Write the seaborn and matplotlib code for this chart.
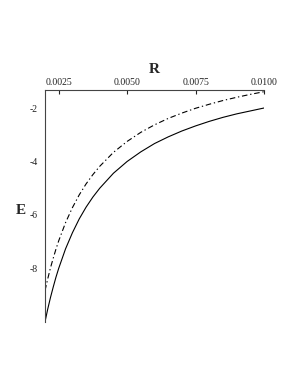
import matplotlib
matplotlib.use("Agg")
import matplotlib.pyplot as plt
import seaborn as sns
import pandas as pd

# values
R = [0.002, 0.0021, 0.0022, 0.0023, 0.0024, 0.0025, 0.00275, 0.003, 0.00325,
     0.0035, 0.00375, 0.004, 0.0045, 0.005, 0.0055, 0.006, 0.0065, 0.007,
     0.0075, 0.008, 0.0085, 0.009, 0.0095, 0.01]
E_solid = [-10.0, -9.52, -9.09, -8.70, -8.33, -8.0, -7.27, -6.67, -6.15,
           -5.71, -5.33, -5.0, -4.44, -4.0, -3.64, -3.33, -3.08, -2.86,
           -2.67, -2.5, -2.35, -2.22, -2.11, -2.0]
E_dashdot = [-8.83, -8.39, -7.98, -7.62, -7.28, -6.97, -6.29, -5.73, -5.25,
             -4.84, -4.49, -4.18, -3.66, -3.25, -2.91, -2.63, -2.39, -2.19,
             -2.01, -1.86, -1.72, -1.60, -1.49, -1.39]
x_ticks = [0.0025, 0.0050, 0.0075, 0.0100]
x_labels = ["0.0025", "0.0050", "0.0075", "0.0100"]
y_ticks = [-2, -4, -6, -8]
y_labels = ["-2", "-4", "-6", "-8"]

df = pd.DataFrame({
    "R": R + R,
    "E": E_solid + E_dashdot,
    "curve": ["solid"] * len(R) + ["dashdot"] * len(R),
})

sns.set_style("white")
plt.rcParams["font.family"] = ["Liberation Serif", "DejaVu Serif"]
plt.rcParams["axes.unicode_minus"] = False

fig = plt.figure(figsize=(2.98, 3.85), dpi=100)
ax = fig.add_axes([0.151, 0.164, 0.735, 0.602])

sns.lineplot(data=df[df.curve == "solid"], x="R", y="E", sort=False,
             color="black", lw=0.8, ax=ax)
sns.lineplot(data=df[df.curve == "dashdot"], x="R", y="E", sort=False,
             color="black", lw=0.8, ax=ax, dashes=False,
             linestyle=(0, (5, 2.5, 1.2, 2.5)))

ax.set_xlim(0.002, 0.01)
ax.set_ylim(-10, -1.33)

for s in ["right", "bottom"]:
    ax.spines[s].set_visible(False)
for s in ["left", "top"]:
    ax.spines[s].set_color("#444444")
    ax.spines[s].set_linewidth(0.8)

ax.xaxis.tick_top()
ax.xaxis.set_label_position("top")
ax.set_xticks(x_ticks)
ax.set_xticklabels(x_labels)
ax.set_yticks(y_ticks)
ax.set_yticklabels(y_labels)
ax.tick_params(axis="x", direction="in", length=3, width=0.8, labelsize=7,
               pad=2, colors="#222222")
ax.tick_params(axis="y", direction="out", length=3, width=0.8, labelsize=7,
               pad=2, colors="#222222")

ax.set_xlabel("R", fontsize=11, fontweight="bold", labelpad=4)
ax.set_ylabel("E", fontsize=11, fontweight="bold", rotation=0, labelpad=10,
              va="center")
ax.yaxis.set_label_coords(-0.11, 0.48)

fig.savefig("out.png", dpi=100)
